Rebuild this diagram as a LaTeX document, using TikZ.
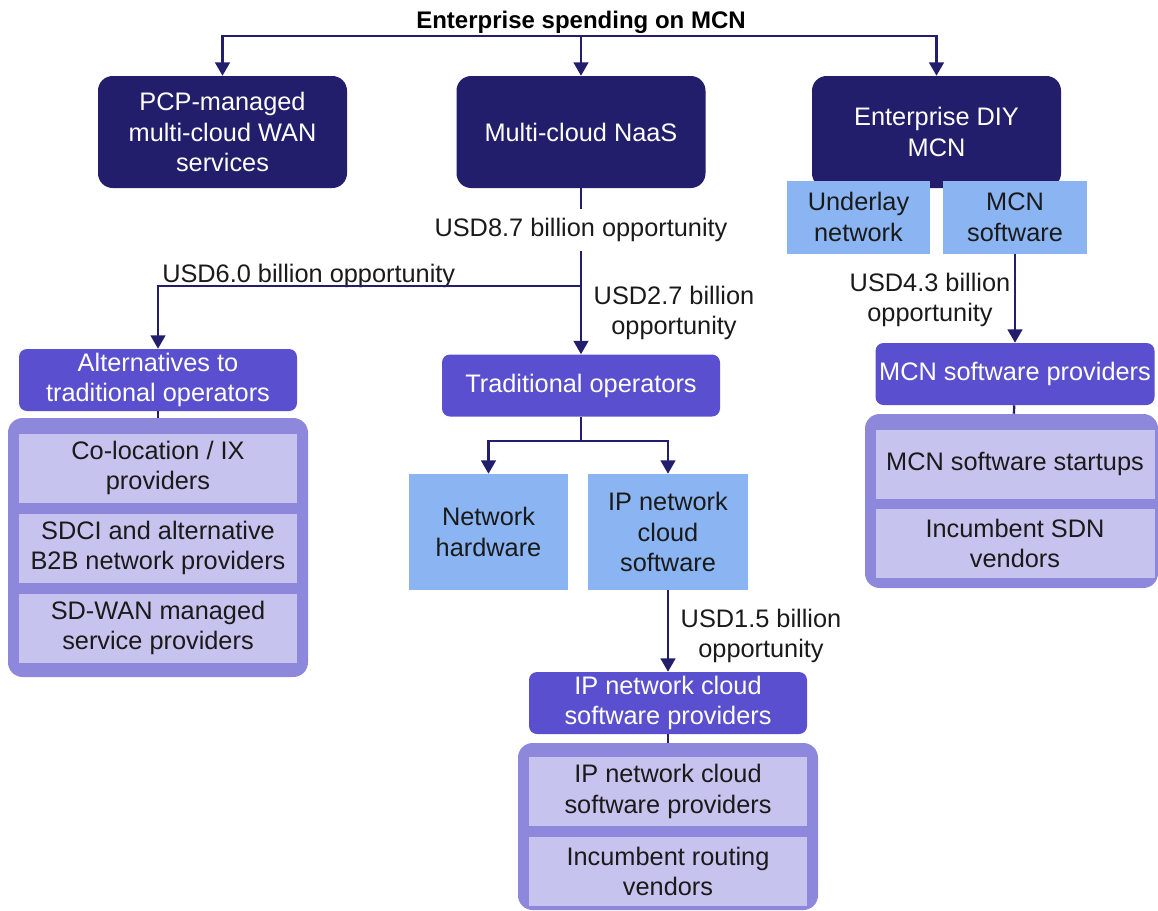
\documentclass[tikz,border=0pt]{standalone}
\usepackage{fontspec}
\setmainfont{Liberation Sans}
\usetikzlibrary{arrows.meta}
\definecolor{mcnnavy}{RGB}{34,30,108}
\definecolor{mcnhead}{RGB}{90,80,207}
\definecolor{mcnpool}{RGB}{142,136,221}
\definecolor{mcnitem}{RGB}{198,195,238}
\definecolor{mcnblue}{RGB}{138,180,242}
\definecolor{mcntext}{RGB}{26,26,26}

\begin{document}
\begin{tikzpicture}[x=0.75pt, y=-0.75pt,
	font=\fontsize{19}{23}\selectfont,
	big/.style={fill=mcnnavy, text=white, rounded corners=11pt, minimum width=186.75pt, minimum height=84pt, align=center, inner sep=0pt},
	head/.style={fill=mcnhead, text=white, rounded corners=6pt, minimum width=208.5pt, minimum height=46.5pt, align=center, inner sep=0pt},
	pool/.style={fill=mcnpool, rounded corners=11pt, minimum width=225pt, inner sep=0pt},
	item/.style={fill=mcnitem, text=mcntext, minimum width=208.5pt, minimum height=51.75pt, align=center, inner sep=0pt},
	seg/.style={fill=mcnblue, text=mcntext, align=center, inner sep=0pt},
	usd/.style={text=mcntext, align=center, inner sep=3pt},
	link/.style={draw=mcnnavy, line width=1.8pt},
	arr/.style={link, -{Triangle[width=11pt,length=10pt]}}]
				\useasboundingbox (0, 0) rectangle (1158, 911);
				\node[text=black, font=\fontsize{18}{22}\selectfont\bfseries] (T)at(581, 22) {Enterprise spending on MCN};
				\node[big] (P)at(222.5, 132) {PCP-managed\\multi-cloud WAN\\services};
				\node[big] (N)at(581, 132) {Multi-cloud NaaS};
				\node[big] (D)at(936.5, 132) {Enterprise DIY\\MCN};
				\node[seg, minimum width=107.25pt, minimum height=54.75pt] (U)at(858.5, 217) {Underlay\\network};
				\node[seg, minimum width=108pt, minimum height=54.75pt] (S)at(1015, 217) {MCN\\software};
				\node[usd, inner ysep=7pt] (L1)at(581, 230) {USD8.7 billion opportunity};
				\node[usd, anchor=base west] (L2)at(158, 282) {USD6.0 billion opportunity};
				\node[usd] (L3)at(674, 313) {USD2.7 billion\\opportunity};
				\node[usd] (L5)at(930, 300) {USD4.3 billion\\opportunity};
				\node[head] (A)at(158, 380) {Alternatives to\\traditional operators};
				\node[pool, minimum height=194.25pt] (C1)at(158, 547.5) {};
				\node[item] (C1a)at(158, 468) {Co-location / IX\\providers};
				\node[item] (C1b)at(158, 548) {SDCI and alternative\\B2B network providers};
				\node[item] (C1c)at(158, 628) {SD-WAN managed\\service providers};
				\node[head] (O)at(581, 385.5) {Traditional operators};
				\node[seg, minimum width=119.25pt, minimum height=87pt] (H)at(488.5, 532) {Network\\hardware};
				\node[seg, minimum width=120pt, minimum height=87pt] (I)at(668, 532) {IP network\\cloud\\software};
				\node[usd] (L4)at(761, 636) {USD1.5 billion\\opportunity};
				\node[head] (Q)at(668, 703) {IP network cloud\\software providers};
				\node[pool, minimum height=125.25pt] (C2)at(668, 826.5) {};
				\node[item] (C2a)at(668, 791.5) {IP network cloud\\software providers};
				\node[item] (C2b)at(668, 871.5) {Incumbent routing\\vendors};
				\node[head, minimum width=209.25pt] (R)at(1015, 374) {MCN software providers};
				\node[pool, minimum width=219.75pt, minimum height=130.5pt] (C3)at(1011.5, 501) {};
				\node[item, minimum width=209.25pt] (C3a)at(1015, 464) {MCN software startups};
				\node[item, minimum width=209.25pt] (C3b)at(1015, 543.5) {Incumbent SDN\\vendors};
				\coordinate (t0) at (581, 36);
				\coordinate (b1) at (581, 286);
				\coordinate (b2) at (581, 441);
				\draw[arr] (t0) -| (P);
				\draw[arr] (t0) -- (N);
				\draw[arr] (t0) -| (D);
				\draw[link] (N) -- (L1);
				\draw[arr] (L1) -- (O);
				\draw[arr] (b1) -| (A);
				\draw[link] (A) -- (C1);
				\draw[link] (O) -- (b2);
				\draw[arr] (b2) -| (H);
				\draw[arr] (b2) -| (I);
				\draw[arr] (I) -- (Q);
				\draw[link] (Q) -- (C2);
				\draw[arr] (S) -- (R);
				\draw[link] (R) -- (C3);
			\end{tikzpicture}
\end{document}
